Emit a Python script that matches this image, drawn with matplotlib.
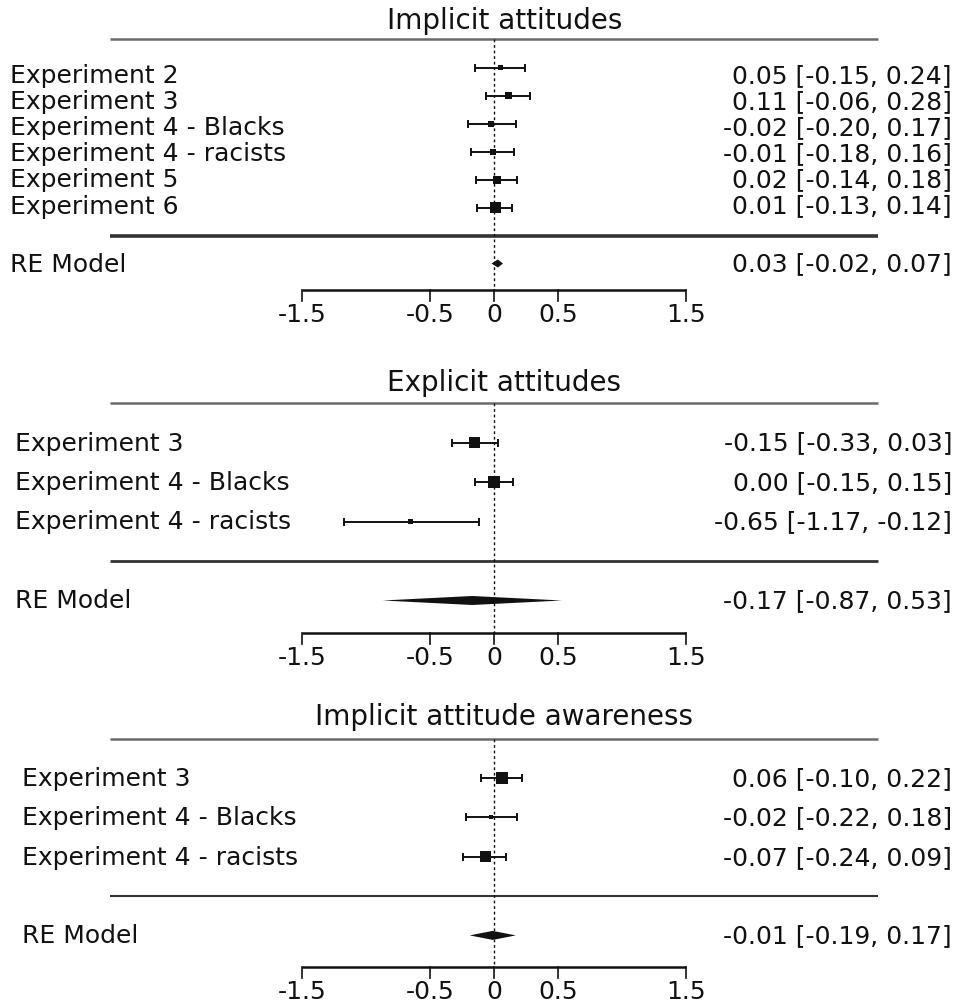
import matplotlib
matplotlib.use("Agg")
import matplotlib.pyplot as plt
import numpy as np

# ---------------- data ----------------
titles = ["Implicit attitudes", "Explicit attitudes", "Implicit attitude awareness"]

p1_labels = ["Experiment 2", "Experiment 3", "Experiment 4 - Blacks",
             "Experiment 4 - racists", "Experiment 5", "Experiment 6"]
p1_est = [0.05, 0.11, -0.02, -0.01, 0.02, 0.01]
p1_lo = [-0.15, -0.06, -0.20, -0.18, -0.14, -0.13]
p1_hi = [0.24, 0.28, 0.17, 0.16, 0.18, 0.14]
p1_re = [0.03, -0.02, 0.07]

p2_labels = ["Experiment 3", "Experiment 4 - Blacks", "Experiment 4 - racists"]
p2_est = [-0.15, 0.00, -0.65]
p2_lo = [-0.33, -0.15, -1.17]
p2_hi = [0.03, 0.15, -0.12]
p2_re = [-0.17, -0.87, 0.53]

p3_labels = ["Experiment 3", "Experiment 4 - Blacks", "Experiment 4 - racists"]
p3_est = [0.06, -0.02, -0.07]
p3_lo = [-0.10, -0.22, -0.24]
p3_hi = [0.22, 0.18, 0.09]
p3_re = [-0.01, -0.19, 0.17]

xticks = [-1.5, -0.5, 0, 0.5, 1.5]
xtick_labels = ["-1.5", "-0.5", "0", "0.5", "1.5"]

# marker side lengths in pixels (study weights)
p1_sizes = [5, 7, 6, 6, 8, 11]
p2_sizes = [11, 12, 5]
p3_sizes = [12, 4, 11]

# ---------------- layout ----------------
W, H = 957, 1003
fig = plt.figure(figsize=(W / 100, H / 100), dpi=100)
plt.rcParams['font.family'] = ['DejaVu Sans']
FS = 18
TFS = 20
X0 = 494.0      # pixel of x = 0
SC = 128.0      # pixels per unit
def px2x(px):
    return (px - X0) / SC

panels = [
    dict(title=titles[0], labels=p1_labels, est=p1_est, lo=p1_lo, hi=p1_hi, re=p1_re,
         sizes=p1_sizes, top=0, bot=340, y0=236.5, s=28.0, title_py=21, top_py=40,
         sep_lw=2.6, axis_py=291, label_px=10, label_rows="compressed", dh=4.0),
    dict(title=titles[1], labels=p2_labels, est=p2_est, lo=p2_lo, hi=p2_hi, re=p2_re,
         sizes=p2_sizes, top=340, bot=680, y0=562.0, s=39.5, title_py=383, top_py=404,
         sep_lw=2.0, axis_py=634, label_px=15, label_rows=None, dh=4.5),
    dict(title=titles[2], labels=p3_labels, est=p3_est, lo=p3_lo, hi=p3_hi, re=p3_re,
         sizes=p3_sizes, top=680, bot=1003, y0=897.0, s=39.4, title_py=717, top_py=740,
         sep_lw=1.5, axis_py=968, label_px=22, label_rows=None, dh=4.5),
]

for p in panels:
    ax = fig.add_axes([0, 1 - p["bot"] / H, 1, (p["bot"] - p["top"]) / H])
    ax.set_axis_off()
    y0, s = p["y0"], p["s"]
    def py2r(py):
        return (y0 - py) / s
    ax.set_xlim(px2x(0), px2x(W))
    ax.set_ylim(py2r(p["bot"]), py2r(p["top"]))

    n = len(p["labels"])
    rows = np.arange(n, 0, -1).astype(float)
    est = np.array(p["est"]); lo = np.array(p["lo"]); hi = np.array(p["hi"])

    # title and horizontal rules
    ax.text(0.08, py2r(p["title_py"]), p["title"], ha="center", va="center",
            fontsize=TFS, color="#111111")
    ax.plot([-3.0, 3.0], [py2r(p["top_py"])] * 2, color="#6a6a6a", lw=1.8,
            solid_capstyle="butt")
    ax.plot([-3.0, 3.0], [0, 0], color="#333333", lw=p["sep_lw"],
            solid_capstyle="butt")

    # reference line at 0
    ax.plot([0, 0], [py2r(p["top_py"]), py2r(p["axis_py"])], color="#111111",
            lw=1.0, ls=(0, (2, 2)))

    # study estimates
    ax.errorbar(est, rows, xerr=[est - lo, hi - est], fmt="none", ecolor="#111111",
                elinewidth=1.4, capsize=3, capthick=1.4)
    ax.scatter(est, rows, marker="s", s=(np.array(p["sizes"]) * 0.72) ** 2,
               color="#111111", edgecolors="none", zorder=3)

    # labels and values
    if p["label_rows"] == "compressed":
        lrows = 1.07 + (rows - 1) * 0.93
    else:
        lrows = rows
    for r, lr, lab, e, l, h in zip(rows, lrows, p["labels"], est, lo, hi):
        ax.text(px2x(p["label_px"]), lr, lab, ha="left", va="center", fontsize=FS,
                color="#111111")
        ax.text(px2x(952), lr, f"{e:.2f} [{l:.2f}, {h:.2f}]", ha="right",
                va="center", fontsize=FS, color="#111111")

    # RE model diamond
    re_e, re_l, re_h = p["re"]
    dh = p["dh"] / s
    ax.fill([re_l, re_e, re_h, re_e], [-1, -1 + dh, -1, -1 - dh], color="#111111",
            lw=0)
    ax.text(px2x(p["label_px"]), -1, "RE Model", ha="left", va="center",
            fontsize=FS, color="#111111")
    ax.text(px2x(952), -1, f"{re_e:.2f} [{re_l:.2f}, {re_h:.2f}]", ha="right",
            va="center", fontsize=FS, color="#111111")

    # x axis
    ya = py2r(p["axis_py"])
    tl = 11 / s
    ax.plot([xticks[0], xticks[-1]], [ya, ya], color="#111111", lw=1.8,
            solid_capstyle="butt")
    for t, tlab in zip(xticks, xtick_labels):
        ax.plot([t, t], [ya, ya - tl], color="#111111", lw=1.2)
        ax.text(t, ya - tl - 1 / s, tlab, ha="center", va="top", fontsize=FS,
                color="#111111")

fig.savefig("out.png", dpi=100)
